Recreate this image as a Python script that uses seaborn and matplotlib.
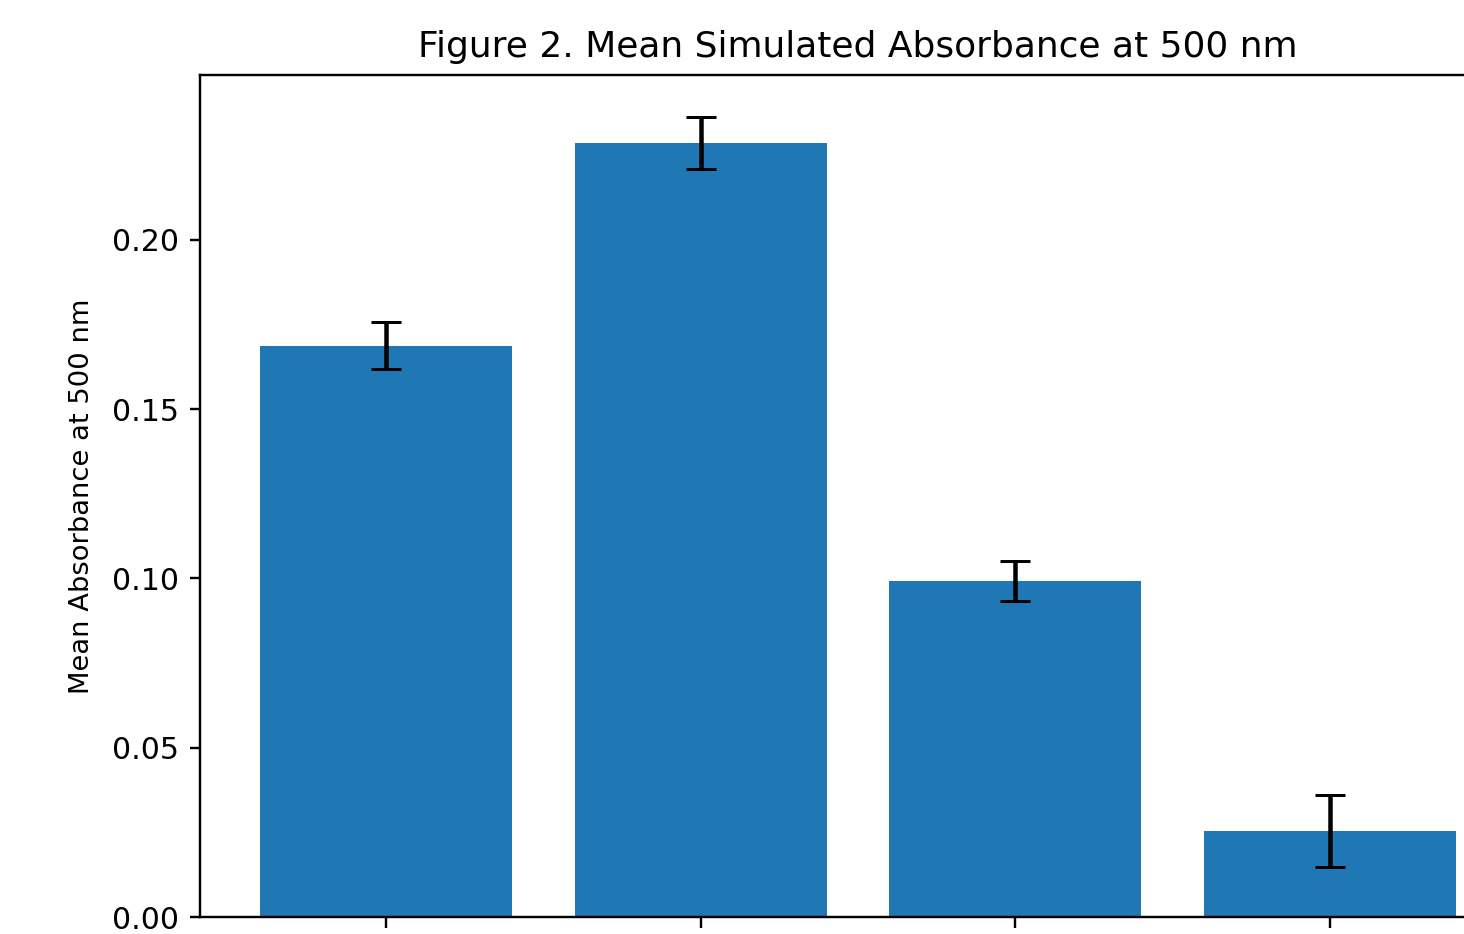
import numpy as np
import pandas as pd
import matplotlib
matplotlib.use('Agg')
import matplotlib.pyplot as plt
import seaborn as sns

# values (x tick labels fall outside the cropped view)
conditions = ['Condition A', 'Condition B', 'Condition C', 'Condition D']
mean_abs = [0.1688, 0.2287, 0.0993, 0.0254]
sd_abs = [0.0069, 0.0077, 0.0059, 0.0106]

df = pd.DataFrame({'condition': conditions, 'absorbance': mean_abs})

DPI = 216
fig = plt.figure(figsize=(1464 / DPI, 934 / DPI), dpi=DPI)
# axes runs past the right/bottom edge, as in the cropped reference
ax = fig.add_axes([200 / 1464, 17 / 934, 1316 / 1464, 842 / 934])

sns.barplot(data=df, x='condition', y='absorbance', color='#1f77b4',
            saturation=1, width=0.8, errorbar=None, ax=ax)
ax.errorbar(np.arange(len(conditions)), mean_abs, yerr=sd_abs,
            fmt='none', ecolor='black', capsize=5, elinewidth=1.5)

ax.set_xlim(-0.59, 3.59)
ax.set_ylim(0, 0.2487)
ax.set_xlabel('')
ax.tick_params(axis='x', labelbottom=False)
ax.set_ylabel('Mean Absorbance at 500 nm', fontsize=9.15, labelpad=5.7)
ax.set_title('Figure 2. Mean Simulated Absorbance at 500 nm')

fig.savefig('out.png', dpi=DPI)
